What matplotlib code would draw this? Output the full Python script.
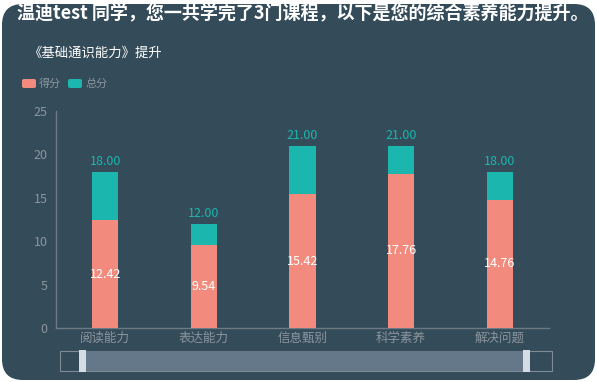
import matplotlib.pyplot as plt
from matplotlib.patches import FancyBboxPatch, Rectangle

plt.rcParams['font.family'] = ['Noto Sans CJK SC', 'DejaVu Sans']

categories = ["阅读能力", "表达能力", "信息甄别", "科学素养", "解决问题"]
scores = [12.42, 9.54, 15.42, 17.76, 14.76]
totals = [18, 12, 21, 21, 18]
title = "温迪test 同学，您一共学完了3门课程，以下是您的综合素养能力提升。"
subtitle = "《基础通识能力》提升"

BG = "#344b59"
SALMON = "#f28b7d"
TEAL = "#1bb6ae"
GREY = "#8b969e"

W, H = 597, 382
fig = plt.figure(figsize=(W / 100, H / 100), dpi=100)
fig.patch.set_facecolor("white")


def fx(px):
    return px / W


def fy(py):
    return 1 - py / H


# rounded dark panel
fig.patches.append(FancyBboxPatch((fx(2), fy(380)), fx(593), 376 / H,
                                  boxstyle="round,pad=0,rounding_size=0.035",
                                  transform=fig.transFigure, facecolor=BG,
                                  edgecolor="none", mutation_aspect=W / H,
                                  zorder=-5))

fig.text(fx(17), fy(14), title, color="white", fontsize=13,
         fontweight="bold", va="center", ha="left")
fig.text(fx(29), fy(53), subtitle, color="white", fontsize=9.6,
         va="center", ha="left")

# legend
for x0, label, col in [(22, "得分", SALMON), (68, "总分", TEAL)]:
    fig.patches.append(FancyBboxPatch((fx(x0), fy(88)), fx(14), 9 / H,
                                      boxstyle="round,pad=0,rounding_size=0.004",
                                      transform=fig.transFigure, facecolor=col,
                                      edgecolor="none"))
    fig.text(fx(x0 + 17), fy(83.5), label, color=GREY, fontsize=8,
             va="center", ha="left")

ax = fig.add_axes([fx(56), fy(328), fx(493), (328 - 111) / H])
ax.set_zorder(2)
ax.set_facecolor("none")
x = range(len(categories))
ax.bar(x, totals, width=0.265, color=TEAL, zorder=2)
ax.bar(x, scores, width=0.265, color=SALMON, zorder=3)
for i, (s, t) in enumerate(zip(scores, totals)):
    ax.text(i, t + 0.4, f"{t:.2f}", color=TEAL, fontsize=9,
            ha="center", va="bottom", zorder=4)
    ax.text(i, s / 2, f"{s:.2f}", color="white", fontsize=9,
            fontweight="medium", ha="center", va="center", zorder=4)

ax.set_xlim(-0.5, len(categories) - 0.5)
ax.set_ylim(0, 25)
ax.set_yticks([0, 5, 10, 15, 20, 25])
ax.set_xticks(list(x))
ax.set_xticklabels(categories)
ax.tick_params(axis="both", length=0, colors=GREY, labelsize=9)
ax.tick_params(axis="y", pad=6)
ax.tick_params(axis="x", pad=3)
for side in ["top", "right"]:
    ax.spines[side].set_visible(False)
for side in ["left", "bottom"]:
    ax.spines[side].set_color("#6c7a84")
    ax.spines[side].set_linewidth(1)

# data zoom slider
fig.patches.append(Rectangle((fx(60), fy(371)), fx(492), 20 / H,
                             transform=fig.transFigure, facecolor="none",
                             edgecolor="#7d8b95", linewidth=0.8))
fig.patches.append(Rectangle((fx(82), fy(371)), fx(445), 20 / H,
                             transform=fig.transFigure, facecolor="#65788a",
                             edgecolor="none"))
for hx in [79, 523]:
    fig.patches.append(Rectangle((fx(hx), fy(372)), fx(7), 22 / H,
                                 transform=fig.transFigure, facecolor="#d4dde5",
                                 edgecolor="none"))

fig.savefig("out.png", dpi=100, facecolor=fig.get_facecolor())
